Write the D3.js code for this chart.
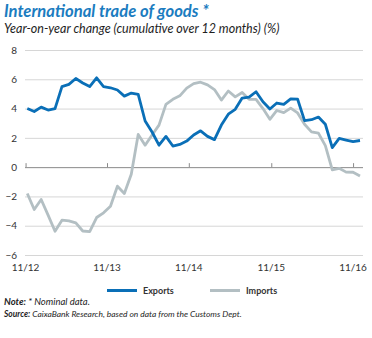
<!DOCTYPE html>
<html>
<head>
<meta charset="utf-8">
<script src="https://cdn.jsdelivr.net/npm/d3@7"></script>
<style>
  html, body { margin: 0; padding: 0; background: #fff; }
  svg { display: block; }
</style>
</head>
<body>
<svg id="chart" width="372" height="338"></svg>
<script>
// ---- data (monthly, Nov 2012 – Nov 2016) ----
const exportsData = [4.0, 3.8, 4.1, 3.9, 4.0, 5.5, 5.65, 6.05, 5.75, 5.5, 6.1, 5.5,
  5.42, 5.27, 4.85, 5.06, 4.97, 3.15, 2.4, 1.5, 2.1, 1.44, 1.55, 1.78,
  2.2, 2.48, 2.1, 1.88, 2.87, 3.62, 3.95, 4.72, 4.78, 5.15, 4.47, 3.97,
  4.38, 4.29, 4.66, 4.64, 3.18, 3.24, 3.42, 2.93, 1.33, 1.96, 1.85, 1.75, 1.82];
const importsData = [-1.8, -2.89, -2.21, -3.28, -4.38, -3.62, -3.67, -3.8, -4.36, -4.4, -3.44, -3.12,
  -2.67, -1.3, -1.8, -0.48, 2.23, 1.5, 2.19, 2.87, 4.29, 4.63, 4.87, 5.4,
  5.7, 5.8, 5.62, 5.3, 4.58, 5.2, 4.8, 5.1, 4.63, 4.63, 4.0, 3.27,
  3.87, 3.72, 4.03, 3.7, 2.93, 2.41, 2.32, 1.47, -0.18, -0.08, -0.34, -0.35, -0.6];
const tickLabels = ["11/12", "11/13", "11/14", "11/15", "11/16"];
const tickMonths = [-0.25, 11.5, 23.3, 35.2, 47];   // month index where each label sits
const yTicks = [8, 6, 4, 2, 0, -2, -4, -6];
const seriesNames = ["Exports", "Imports"];
const seriesColors = ["#0a6fb7", "#b3bfc3"];

// ---- layout ----
const svg = d3.select("#chart");
const plot = { left: 25, right: 363, top: 50, bottom: 255 };
const x = d3.scaleLinear().domain([0, exportsData.length - 1]).range([27.3, 360]);
const y = d3.scaleLinear().domain([-6, 8]).range([plot.bottom, plot.top]);
const FONT = "Lato, 'Open Sans', sans-serif";

function fit(sel, target, maxSize) {
  const w = sel.node().getComputedTextLength();
  const fs = parseFloat(sel.attr("font-size"));
  sel.attr("font-size", Math.min(maxSize || 99, fs * target / w));
}

// title
const title = svg.append("text").attr("x", 4).attr("y", 17)
  .attr("font-family", FONT)
  .attr("font-weight", "bold").attr("font-style", "italic")
  .attr("font-size", 16.5).attr("fill", "#1b7cc0")
  .text("International trade of goods *");
fit(title, 205, 17);

const sub = svg.append("text").attr("x", 4).attr("y", 33)
  .attr("font-family", FONT)
  .attr("font-style", "italic")
  .attr("font-size", 12).attr("fill", "#1e1e1e")
  .text("Year-on-year change (cumulative over 12 months) (%)");
fit(sub, 283, 12.5);

// grid
const yAxis = d3.axisLeft(y).tickValues(yTicks).tickSize(-(plot.right - plot.left)).tickPadding(8)
  .tickFormat(d3.format("d"));
const gy = svg.append("g").attr("transform", `translate(${plot.left},0)`).call(yAxis);
gy.select(".domain").remove();
gy.selectAll(".tick line").attr("stroke", d => d === 0 ? "#8a8a8a" : "#d6d6d6").attr("stroke-width", 1);
gy.selectAll(".tick text").attr("font-family", FONT)
  .attr("font-size", 10).attr("fill", "#333").attr("x", -8);

// x axis on zero line
const xAxis = d3.axisTop(x).tickValues(tickMonths).tickSize(4).tickFormat(() => "");
const gx = svg.append("g").attr("transform", `translate(0,${y(0)})`).call(xAxis);
gx.select(".domain").remove();
gx.selectAll(".tick line").attr("stroke", "#8a8a8a");

// x labels
svg.append("g").selectAll("text").data(tickMonths).join("text")
  .attr("x", d => x(d)).attr("y", 271).attr("text-anchor", "middle")
  .attr("font-family", FONT).attr("font-size", 10).attr("fill", "#333")
  .text((d, i) => tickLabels[i]);

// lines
const line = d3.line().x((d, i) => x(i)).y(d => y(d)).curve(d3.curveLinear);
[importsData, exportsData].forEach((data, k) => {
  const idx = k === 0 ? 1 : 0;
  svg.append("path").datum(data)
    .attr("fill", "none").attr("stroke", seriesColors[idx]).attr("stroke-width", 2.8)
    .attr("stroke-linejoin", "round")
    .attr("d", line);
});

// legend
const legendX = [107, 210];
seriesNames.forEach((name, i) => {
  svg.append("line").attr("x1", legendX[i]).attr("x2", legendX[i] + 30)
    .attr("y1", 290.5).attr("y2", 290.5)
    .attr("stroke", seriesColors[i]).attr("stroke-width", 3);
  svg.append("text").attr("x", legendX[i] + 36).attr("y", 293.5)
    .attr("font-family", FONT).attr("font-weight", "bold")
    .attr("font-size", 9).attr("fill", "#333").text(name);
});

// notes
const note = svg.append("text").attr("x", 4).attr("y", 304.5)
  .attr("font-family", FONT).attr("font-style", "italic")
  .attr("font-size", 9).attr("fill", "#1e1e1e");
note.append("tspan").attr("font-weight", "bold").text("Note:");
note.append("tspan").text(" * Nominal data.");
fit(note, 93, 9.5);

const src = svg.append("text").attr("x", 4).attr("y", 317)
  .attr("font-family", FONT).attr("font-style", "italic")
  .attr("font-size", 9).attr("fill", "#1e1e1e");
src.append("tspan").attr("font-weight", "bold").text("Source:");
src.append("tspan").text(" CaixaBank Research, based on data from the Customs Dept.");
fit(src, 238, 9.5);
</script>
</body>
</html>
